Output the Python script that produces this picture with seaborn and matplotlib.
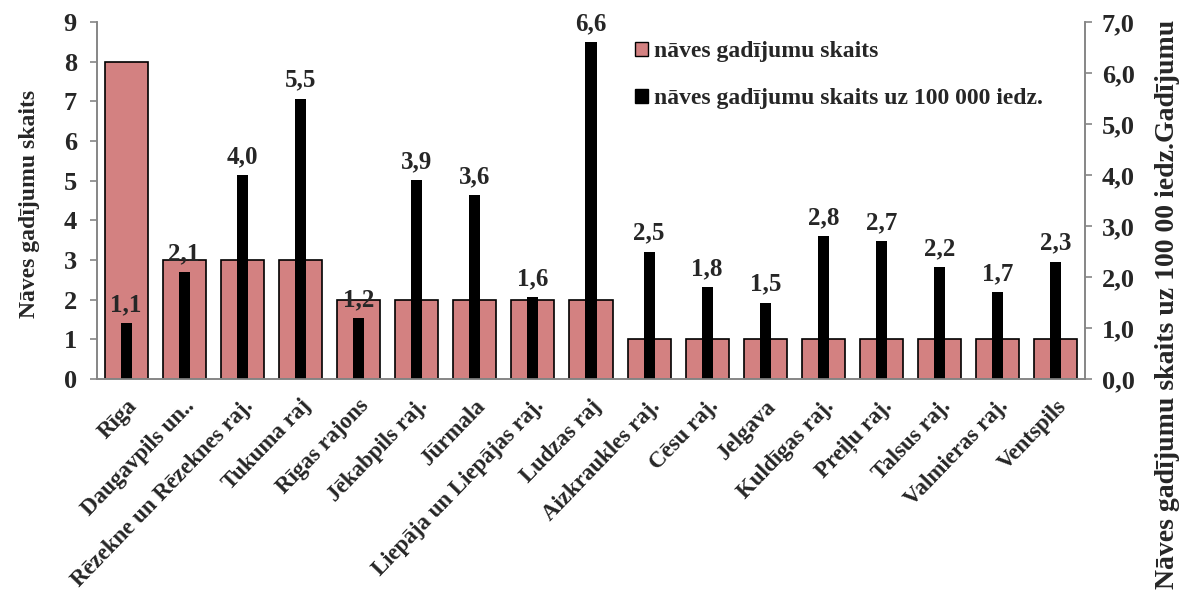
import matplotlib
matplotlib.use("Agg")
import matplotlib.pyplot as plt
import matplotlib.patches as mpatches
from matplotlib.ticker import FixedLocator, MultipleLocator, FuncFormatter
import seaborn as sns
import pandas as pd
import numpy as np

# Data
regions = ["Rīga", "Daugavpils un..", "Rēzekne un Rēzeknes raj.", "Tukuma raj",
           "Rīgas rajons", "Jēkabpils raj.", "Jūrmala", "Liepāja un Liepājas raj.",
           "Ludzas raj", "Aizkraukles raj.", "Cēsu raj.", "Jelgava", "Kuldīgas raj.",
           "Preiļu raj.", "Talsus raj.", "Valmieras raj.", "Ventspils"]
deaths = [8, 3, 3, 3, 2, 2, 2, 2, 2, 1, 1, 1, 1, 1, 1, 1, 1]
deaths_per_100k = [1.1, 2.1, 4.0, 5.5, 1.2, 3.9, 3.6, 1.6, 6.6, 2.5, 1.8, 1.5,
                   2.8, 2.7, 2.2, 1.7, 2.3]
legend_labels = ["nāves gadījumu skaits", "nāves gadījumu skaits uz 100 000 iedz."]

df = pd.DataFrame({"region": regions, "deaths": deaths, "rate": deaths_per_100k})

sns.set_style("white")
plt.rcParams["font.family"] = ["Liberation Serif", "DejaVu Serif"]
plt.rcParams["font.weight"] = "bold"

PINK = "#d38181"
GRAY = "#868686"

W, H = 1189, 593
fig = plt.figure(figsize=(W / 100, H / 100), dpi=100)
ax = fig.add_axes([97 / W, 1 - 379 / H, (1085 - 97) / W, (379 - 22) / H])

sns.barplot(data=df, x="region", y="deaths", color=PINK, width=0.74,
            edgecolor="black", linewidth=1.2, saturation=1, ax=ax)
ax2 = ax.twinx()
sns.barplot(data=df, x="region", y="rate", color="black", width=0.19,
            edgecolor="black", linewidth=0, saturation=1, ax=ax2)

n = len(regions)
for a in (ax, ax2):
    a.set_xlim(-0.5, n - 0.5)
    a.set_xlabel("")
    a.set_ylabel("")
ax.set_ylim(0, 9)
ax2.set_ylim(0, 7)
ax.yaxis.set_major_locator(MultipleLocator(1))
ax2.yaxis.set_major_locator(MultipleLocator(1))
ax2.yaxis.set_major_formatter(FuncFormatter(lambda v, p: f"{v:.1f}".replace(".", ",")))

# Value labels above the rate bars
labels = [f"{v:.1f}".replace(".", ",") for v in deaths_per_100k]
ax2.bar_label(ax2.containers[0], labels=labels, padding=5, fontsize=18,
              fontweight="bold")

# Spines and ticks
for a in (ax, ax2):
    a.spines["top"].set_visible(False)
    for s in ("left", "right", "bottom"):
        a.spines[s].set_color(GRAY)
        a.spines[s].set_linewidth(1.2)
ax.xaxis.set_minor_locator(FixedLocator(np.arange(-0.5, n, 1.0)))
ax.tick_params(axis="x", which="major", length=0, pad=12)
ax.tick_params(axis="x", which="minor", length=4, color=GRAY, width=1.2, direction="out")
ax.tick_params(axis="y", length=5, color=GRAY, width=1.2, direction="out",
               labelsize=19, pad=9.4, left=True)
ax2.tick_params(axis="y", length=5, color=GRAY, width=1.2, direction="out",
                labelsize=19, pad=7.2, right=True)
ax.set_xticks(range(n))
ax.set_xticklabels(regions, rotation=46, ha="right", rotation_mode="anchor",
                   fontsize=16.5, fontweight="bold")
for t in ax.get_yticklabels() + ax2.get_yticklabels():
    t.set_fontweight("bold")

# Axis titles
fig.text(30 / W, 1 - 204 / H, "Nāves gadījumu skaits", rotation=90,
         ha="center", va="center", fontsize=17, fontweight="bold")
fig.text(1167 / W, 1 - 20 / H, "Nāves gadījumu skaits uz 100 00 iedz.Gadījumu",
         rotation=90, ha="center", va="top", fontsize=20, fontweight="bold")

handles = [mpatches.Patch(facecolor=PINK, edgecolor="black", linewidth=1.0),
           mpatches.Patch(facecolor="black", edgecolor="black")]
fig.legend(handles, legend_labels, loc="upper left",
           bbox_to_anchor=(614 / W, 1 - 20 / H), frameon=False,
           prop={"weight": "bold", "size": 17},
           handlelength=0.55, handleheight=0.55, handletextpad=0.25,
           labelspacing=1.1)

fig.savefig("out.png", dpi=100)
